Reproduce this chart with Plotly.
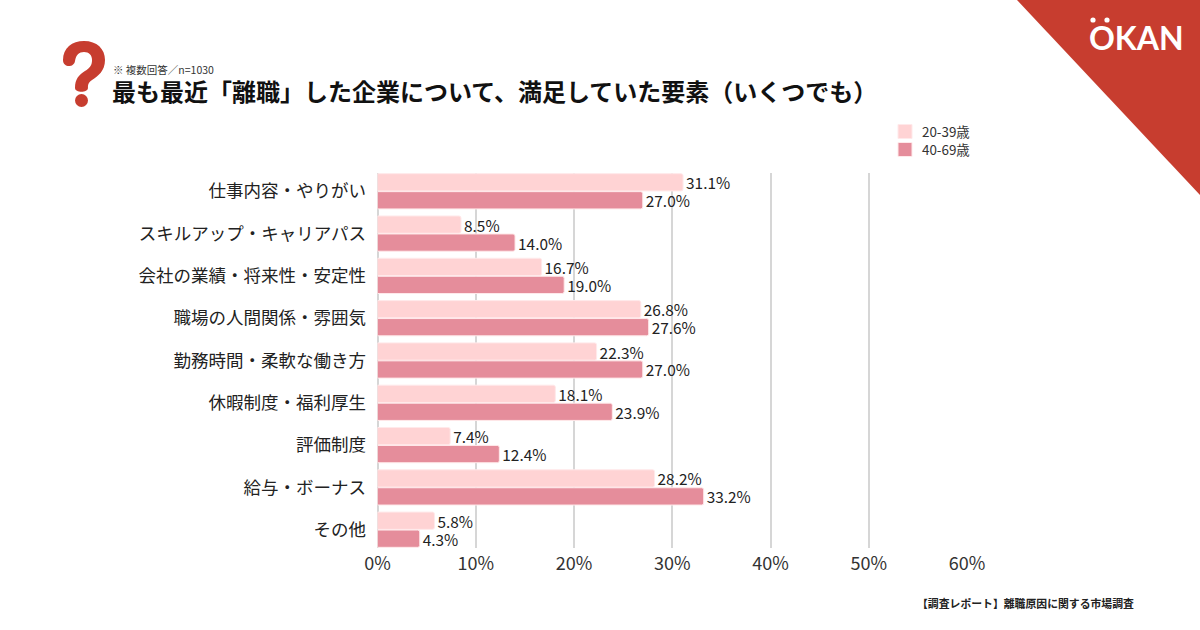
import plotly.graph_objects as go

categories = ['仕事内容・やりがい', 'スキルアップ・キャリアパス', '会社の業績・将来性・安定性',
              '職場の人間関係・雰囲気', '勤務時間・柔軟な働き方', '休暇制度・福利厚生',
              '評価制度', '給与・ボーナス', 'その他']
young = [31.1, 8.5, 16.7, 26.8, 22.3, 18.1, 7.4, 28.2, 5.8]
older = [27.0, 14.0, 19.0, 27.6, 27.0, 23.9, 12.4, 33.2, 4.3]
series_names = ['20-39歳', '40-69歳']
tick_values = [0, 10, 20, 30, 40, 50, 60]
tick_labels = ['0%', '10%', '20%', '30%', '40%', '50%', '60%']

W, H = 1200, 630
FONT = 'Noto Sans CJK JP'
RED = '#C73D2F'
LIGHT = '#FFD3D4'
DARK = '#E58D9B'
EDGE = '#FFE9EA'
GRID = '#D6D6D6'


# page pixels to paper coordinates (margins are zero)
def px(x):
    return x / W


def py(y):
    return 1 - y / H


def path(*parts):
    out = []
    for p in parts:
        if isinstance(p, str):
            out.append(p)
        else:
            out.append('%.4f,%.4f' % (px(p[0]), py(p[1])))
    return ' '.join(out)


def circle(cx, cy, r, color):
    return dict(type='circle', xref='paper', yref='paper', x0=px(cx - r), x1=px(cx + r),
                y0=py(cy + r), y1=py(cy - r), fillcolor=color, line_width=0, layer='above')


def swatch(y, color):
    return dict(type='rect', xref='paper', yref='paper', x0=px(898), x1=px(912),
                y0=py(y + 7), y1=py(y - 7), fillcolor=color, line=dict(color=EDGE, width=1))


def label(text, x, y, anchor, size, color, family=FONT, weight='normal'):
    return dict(text=text, x=px(x), y=py(y), xref='paper', yref='paper', xanchor=anchor,
                yanchor='middle', showarrow=False,
                font=dict(size=size, color=color, family=family, weight=weight))


fig = go.Figure()
for name, values, color in [(series_names[0], young, LIGHT), (series_names[1], older, DARK)]:
    fig.add_trace(go.Bar(y=categories, x=values, name=name, orientation='h',
                         marker=dict(color=color, line=dict(color=EDGE, width=1)),
                         text=['%.1f%%' % v for v in values], textposition='outside',
                         constraintext='none',
                         textfont=dict(size=15.4, color='#222222', family=FONT),
                         cliponaxis=False))

shapes = [
    # corner triangle
    dict(type='path', xref='paper', yref='paper', line_width=0, fillcolor=RED,
         path=path('M', (1017, 0), 'L', (1200, 0), 'L', (1200, 195), 'Z')),
    # question mark
    dict(type='path', xref='paper', yref='paper', line_width=0, fillcolor=RED,
         path=path('M', (63, 60), 'C', (63, 48), (72, 41), (84, 41),
                   'C', (97, 41), (105, 49), (105, 60),
                   'C', (105, 71), (98, 76), (92, 80),
                   'C', (88, 83), (88, 85), (88, 88),
                   'C', (88, 93), (75, 93), (75, 88),
                   'C', (75, 79), (79, 75), (85, 71),
                   'C', (90, 68), (92, 65), (92, 60),
                   'C', (92, 55), (89, 52), (84, 52),
                   'C', (79, 52), (76, 55), (75, 61),
                   'C', (74, 68), (63, 68), (63, 60), 'Z')),
    circle(81.5, 100.5, 6.5, RED),
    # logo dots
    circle(1093, 20, 2.6, 'white'),
    circle(1107, 20, 2.6, 'white'),
    # legend swatches
    swatch(131.5, LIGHT),
    swatch(149.5, DARK),
]

annotations = [
    label('※ 複数回答／n=1030', 111, 69, 'left', 10.5, '#333333'),
    label('【調査レポート】離職原因に関する市場調査', 1136, 603, 'right', 10.85, '#222222', weight='bold'),
    label('OKAN', 1136, 37, 'center', 32, 'white', family='Lato', weight='bold'),
    label(series_names[0], 920, 131, 'left', 13.4, '#333333'),
    label(series_names[1], 920, 149, 'left', 13.4, '#333333'),
]

fig.update_layout(
    width=W, height=H, margin=dict(l=0, r=0, t=0, b=0, autoexpand=False), autosize=False,
    paper_bgcolor='white', plot_bgcolor='white', showlegend=False,
    font=dict(family=FONT, color='#222222'),
    barmode='group', bargap=0.15, bargroupgap=0.04, barcornerradius=2,
    title=dict(text='<b>最も最近「離職」した企業について、満足していた要素（いくつでも）</b>',
               x=px(112), xanchor='left', xref='paper', y=py(92.5), yanchor='middle', yref='paper',
               font=dict(size=24, color='#111111', family=FONT)),
    xaxis=dict(domain=[px(377.5), px(967)], range=[0, 60], tickmode='array', automargin=False,
               tickvals=tick_values, ticktext=tick_labels, showgrid=True,
               gridcolor=GRID, gridwidth=1.5, zeroline=True, zerolinecolor=GRID,
               zerolinewidth=1.5, showline=False, ticks='', ticklabelstandoff=3,
               tickfont=dict(size=18, color='#333333', family=FONT)),
    yaxis=dict(domain=[py(548), py(173)], range=[8.4325, -0.4325], type='category', automargin=False,
               showgrid=False, showline=False, ticks='outside', ticklen=7, tickcolor='white',
               tickfont=dict(size=17.5, color='#222222', family=FONT)),
    shapes=shapes, annotations=annotations,
)

# the page's default body margin would push the figure off the window
fig.write_html("out.html", config={'displayModeBar': False},
               post_script="document.body.style.margin='0';")
